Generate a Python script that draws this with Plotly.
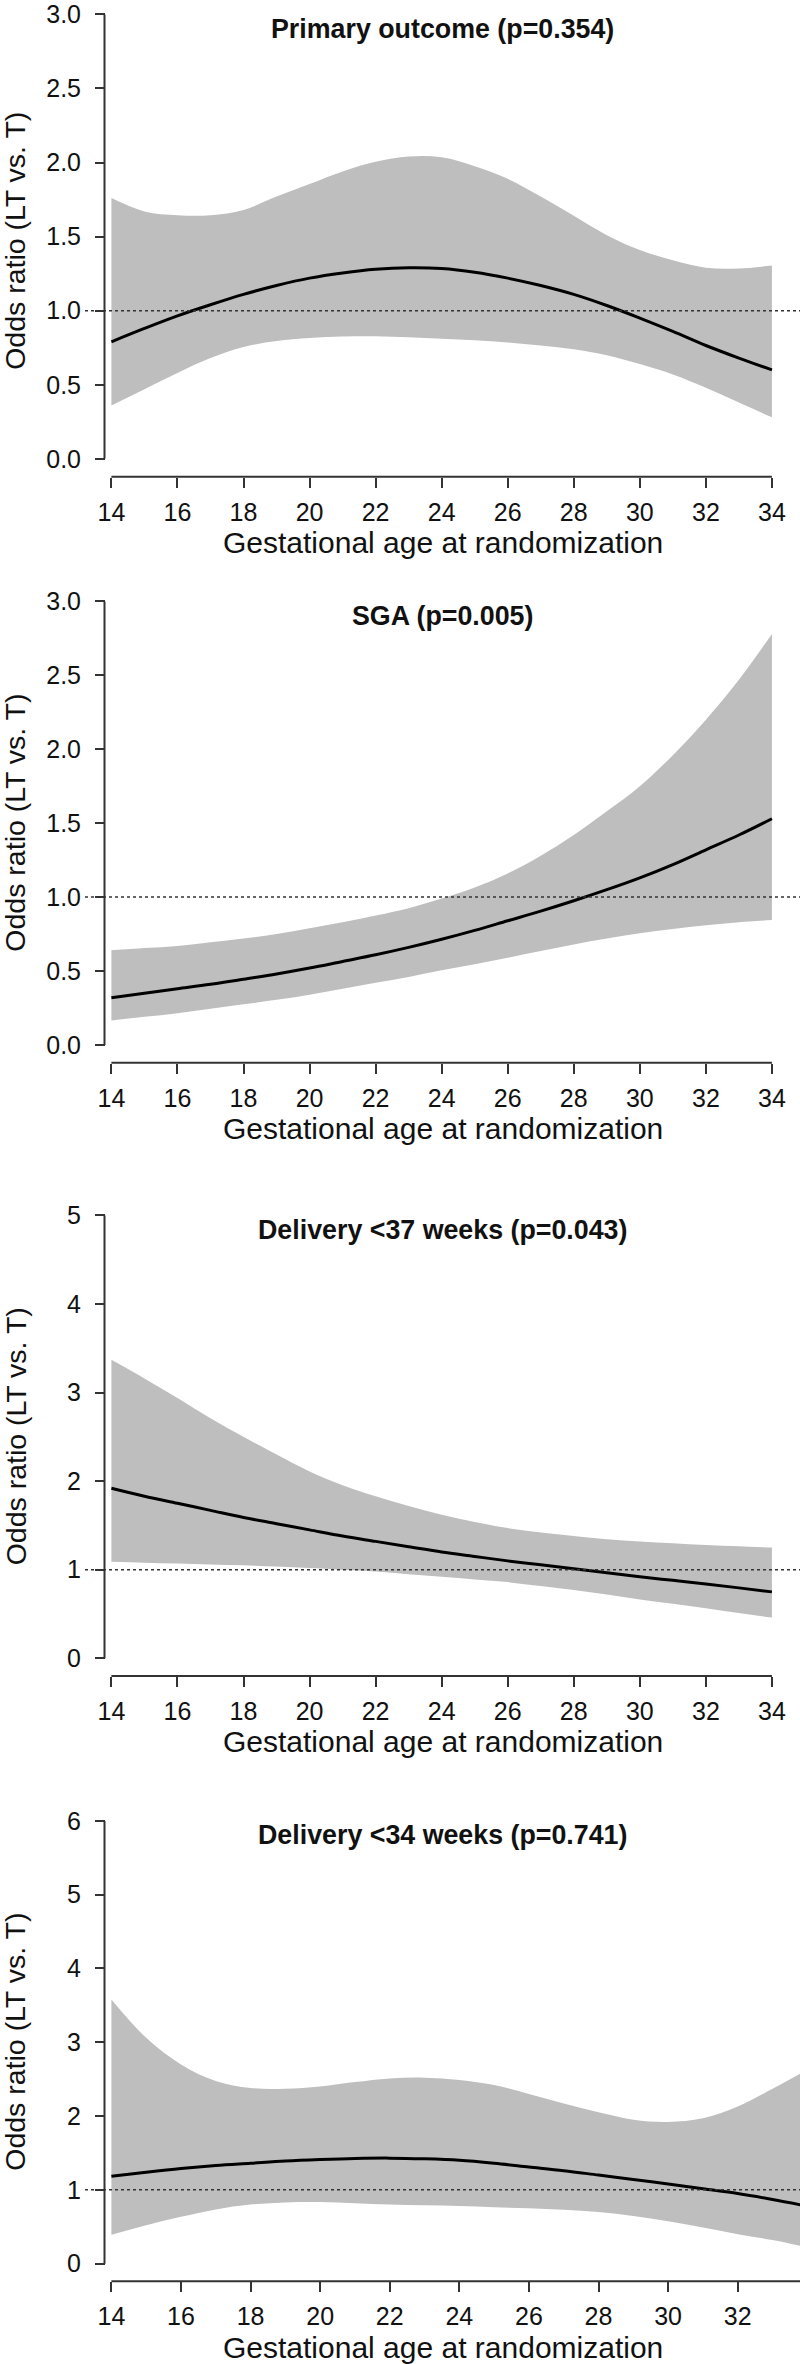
import plotly.graph_objects as go

# gestational age (weeks) at which the curves were read
ga_weeks = list(range(14, 35))

titles = [
    "Primary outcome (p=0.354)",
    "SGA (p=0.005)",
    "Delivery &lt;37 weeks (p=0.043)",
    "Delivery &lt;34 weeks (p=0.741)",
]

primary_or = [0.79, 0.88, 0.965, 1.04, 1.11, 1.17, 1.22, 1.255, 1.28, 1.29, 1.285,
              1.26, 1.22, 1.17, 1.11, 1.035, 0.95, 0.86, 0.765, 0.68, 0.60]
primary_hi = [1.76, 1.67, 1.645, 1.645, 1.68, 1.77, 1.855, 1.94, 2.005, 2.04, 2.035,
              1.975, 1.89, 1.77, 1.64, 1.51, 1.41, 1.34, 1.29, 1.285, 1.305]
primary_lo = [0.36, 0.47, 0.58, 0.68, 0.755, 0.795, 0.815, 0.825, 0.827, 0.82, 0.81,
              0.80, 0.785, 0.765, 0.74, 0.70, 0.64, 0.57, 0.48, 0.38, 0.28]

sga_or = [0.32, 0.35, 0.38, 0.41, 0.445, 0.48, 0.52, 0.565, 0.61, 0.66, 0.715,
          0.775, 0.84, 0.905, 0.975, 1.05, 1.13, 1.22, 1.32, 1.42, 1.53]
sga_hi = [0.64, 0.655, 0.67, 0.695, 0.72, 0.75, 0.79, 0.83, 0.875, 0.925, 0.99,
          1.065, 1.16, 1.28, 1.42, 1.58, 1.75, 1.96, 2.20, 2.47, 2.78]
sga_lo = [0.165, 0.19, 0.215, 0.245, 0.275, 0.305, 0.34, 0.38, 0.42, 0.46, 0.505,
          0.545, 0.59, 0.635, 0.68, 0.72, 0.755, 0.785, 0.81, 0.83, 0.845]

d37_or = [1.92, 1.83, 1.75, 1.67, 1.59, 1.52, 1.45, 1.38, 1.32, 1.26, 1.20,
          1.15, 1.10, 1.055, 1.01, 0.965, 0.92, 0.88, 0.84, 0.795, 0.75]
d37_hi = [3.37, 3.16, 2.94, 2.71, 2.50, 2.30, 2.11, 1.955, 1.83, 1.72, 1.62,
          1.54, 1.47, 1.42, 1.38, 1.345, 1.32, 1.30, 1.28, 1.265, 1.25]
d37_lo = [1.09, 1.08, 1.07, 1.06, 1.05, 1.035, 1.02, 1.0, 0.98, 0.95, 0.92,
          0.89, 0.86, 0.815, 0.77, 0.72, 0.665, 0.615, 0.565, 0.51, 0.46]

d34_or = [1.185, 1.24, 1.29, 1.33, 1.36, 1.39, 1.41, 1.425, 1.43, 1.42, 1.40,
          1.36, 1.31, 1.26, 1.20, 1.14, 1.08, 1.015, 0.95, 0.87, 0.78]
d34_hi = [3.58, 3.06, 2.70, 2.475, 2.38, 2.37, 2.40, 2.46, 2.51, 2.52, 2.49,
          2.42, 2.30, 2.17, 2.05, 1.95, 1.92, 1.97, 2.13, 2.37, 2.63]
d34_lo = [0.39, 0.52, 0.635, 0.735, 0.80, 0.83, 0.835, 0.82, 0.80, 0.79, 0.78,
          0.765, 0.75, 0.73, 0.70, 0.645, 0.575, 0.49, 0.40, 0.32, 0.22]

y_max = [3, 3, 5, 6]
y_step = [0.5, 0.5, 1, 1]
x_ticks = list(range(14, 35, 2))

series = [
    (primary_or, primary_hi, primary_lo),
    (sga_or, sga_hi, sga_lo),
    (d37_or, d37_hi, d37_lo),
    (d34_or, d34_hi, d34_lo),
]

# layout in pixels (top tick, zero tick) for each panel
W, H = 800, 2364
top_tick_px = [8.4, 596.9, 1212.5, 1819.5]
zero_px = [454.0, 1041.6, 1656.5, 2263.4]
x_right = [34.85, 34.85, 34.85, 33.79]
plot_left_px = 85
yaxis_px = 104.5

FONT = "Liberation Sans, Arial, sans-serif"
BAND = "#bebebe"
AXIS = "#333333"

fig = go.Figure()
shapes = []
annotations = []
layout = {}

for i in range(4):
    n = i + 1
    xa = "x" if n == 1 else f"x{n}"
    ya = "y" if n == 1 else f"y{n}"
    mid, hi, lo = series[i]

    fig.add_trace(go.Scatter(x=ga_weeks, y=lo, mode="lines", line=dict(width=0, shape="spline"),
                             xaxis=xa, yaxis=ya, hoverinfo="skip"))
    fig.add_trace(go.Scatter(x=ga_weeks, y=hi, mode="lines", line=dict(width=0, shape="spline"),
                             fill="tonexty", fillcolor=BAND, xaxis=xa, yaxis=ya, hoverinfo="skip"))
    fig.add_trace(go.Scatter(x=ga_weeks, y=mid, mode="lines",
                             line=dict(color="black", width=3, shape="spline"),
                             xaxis=xa, yaxis=ya))

    ymax = y_max[i]
    ppu = (zero_px[i] - top_tick_px[i]) / ymax
    pad = 0.04 * ymax
    bottom_px = zero_px[i] + pad * ppu
    top_px = top_tick_px[i] - pad * ppu
    y_top = ymax + pad
    if top_px < 0:
        y_top = ymax + top_tick_px[i] / ppu
        top_px = 0

    x_px_per_unit = 33.02 if i < 3 else 34.8
    x_left = 14 - (111.4 - plot_left_px) / x_px_per_unit

    yticks = [round(k * y_step[i], 2) for k in range(int(ymax / y_step[i]) + 1)]
    layout[f"xaxis{n if n > 1 else ''}"] = dict(
        domain=[plot_left_px / W, 1], range=[x_left, x_right[i]], anchor=ya,
        showgrid=False, zeroline=False, showline=False,
        ticks="outside", ticklen=10, tickwidth=2, tickcolor=AXIS,
        tickvals=x_ticks, tickfont=dict(family=FONT, size=25, color="#111"),
        ticklabelstandoff=3, ticklabeloverflow="allow",
    )
    layout[f"yaxis{n if n > 1 else ''}"] = dict(
        domain=[1 - bottom_px / H, 1 - top_px / H], range=[-pad, y_top],
        anchor="free", position=yaxis_px / W,
        showgrid=False, zeroline=False, showline=False,
        ticks="outside", ticklen=9.5, tickwidth=2, tickcolor=AXIS,
        tickvals=yticks, tickformat=".1f" if ymax == 3 else "d",
        tickfont=dict(family=FONT, size=25, color="#111"),
        ticklabelstandoff=9, ticklabeloverflow="allow",
    )

    # R-style axis lines that stop at the outer ticks
    shapes.append(dict(type="line", xref=xa, yref=f"{ya} domain", x0=14, x1=min(34, x_right[i]),
                       y0=0, y1=0, line=dict(color=AXIS, width=2)))
    shapes.append(dict(type="line", xref="paper", yref=ya, x0=yaxis_px / W, x1=yaxis_px / W,
                       y0=0, y1=ymax, line=dict(color=AXIS, width=2)))
    # reference line at OR = 1
    shapes.append(dict(type="line", xref=f"{xa} domain", yref=ya, x0=0, x1=1, y0=1, y1=1,
                       line=dict(color="#333333", width=1.5, dash="dot")))

    cx = (plot_left_px + W) / 2 / W
    annotations.append(dict(text=f"<b>{titles[i]}</b>", xref="paper", yref="paper",
                            x=cx, y=1 - (top_tick_px[i] + 14.5) / H, showarrow=False,
                            xanchor="center", yanchor="middle",
                            font=dict(family=FONT, size=26.8, color="#111")))
    annotations.append(dict(text="Gestational age at randomization", xref="paper", yref="paper",
                            x=cx, y=1 - (bottom_px + 66) / H, showarrow=False,
                            xanchor="center", yanchor="middle",
                            font=dict(family=FONT, size=30, color="#111")))
    annotations.append(dict(text="Odds ratio (LT vs. T)", xref="paper", yref="paper",
                            x=15.5 / W, y=1 - (top_px + bottom_px) / 2 / H, showarrow=False,
                            textangle=-90, xanchor="center", yanchor="middle",
                            font=dict(family=FONT, size=28.5, color="#111")))

fig.update_layout(
    **layout,
    width=W, height=H,
    margin=dict(l=0, r=0, t=0, b=0),
    paper_bgcolor="white", plot_bgcolor="white",
    showlegend=False,
    shapes=shapes,
    annotations=annotations,
)

# drop the browser's default body margin so the figure sits at the page origin
fig.write_html("out.html", config={"displayModeBar": False},
               post_script="document.body.style.margin='0';")
